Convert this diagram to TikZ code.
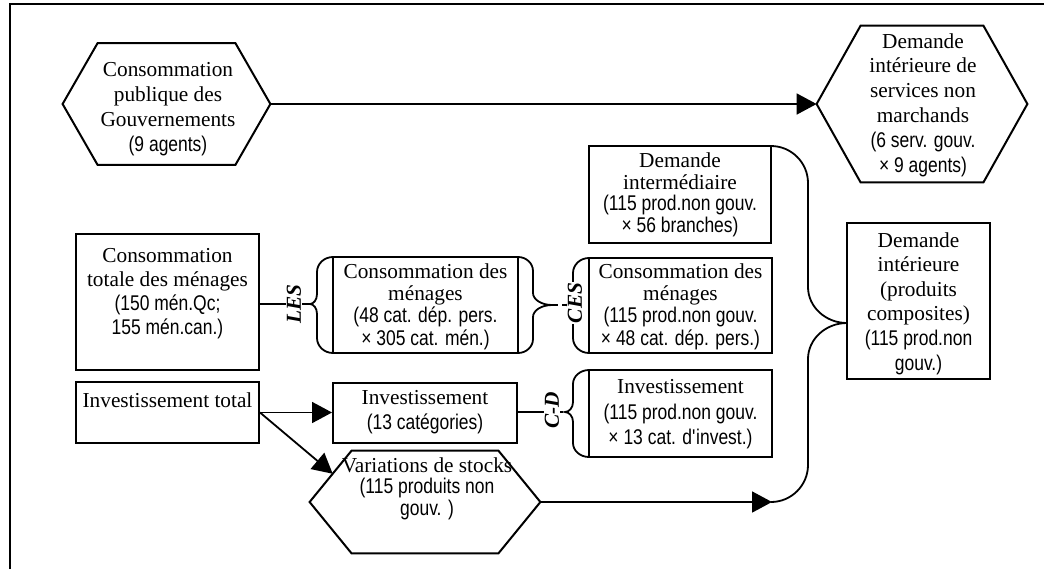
\documentclass[tikz,border=0pt]{standalone}
\usepackage{fontspec}
\setmainfont{Liberation Serif}
\newfontfamily\narrowsans{Liberation Sans}[FakeStretch=0.82]
\usetikzlibrary{arrows.meta,calc}

% curly brace: edge x, vertical x, tip x, top y, tip y, bottom y, outer radius, tip radius
\newcommand\curlybrace[8]{%
  \draw[conn] (#1,#4) .. controls ({#1+0.55*(#2-#1)},#4) and (#2,{#4+0.45*#7}) .. (#2,{#4+#7})
    -- (#2,{#5-#8}) .. controls (#2,{#5-0.45*#8}) and ({#3+0.55*(#2-#3)},#5) .. (#3,#5)
    .. controls ({#3+0.55*(#2-#3)},#5) and (#2,{#5+0.45*#8}) .. (#2,{#5+#8})
    -- (#2,{#6-#7}) .. controls (#2,{#6-0.45*#7}) and ({#1+0.55*(#2-#1)},#6) .. (#1,#6);}

% hexagon drawn round a (text-free) node: node name, horizontal chamfer
\newcommand\hexagonoutline[2]{%
  \draw[outline] (#1.west) -- ($(#1.north west)+(#2,0)$) -- ($(#1.north east)+(-#2,0)$)
    -- (#1.east) -- ($(#1.south east)+(-#2,0)$) -- ($(#1.south west)+(#2,0)$) -- cycle;}

\begin{document}
\begin{tikzpicture}[x=0.5pt,y=-0.5pt,
  sz/.style 2 args={minimum width={#1*0.5pt}, minimum height={#2*0.5pt}},
  box/.style={draw, line width=1pt, inner sep=0pt},
  hexbase/.style={inner sep=0pt},
  outline/.style={line width=1pt, line join=miter},
  conn/.style={line width=0.9pt},
  arr/.style={conn, -{Triangle[length=10pt,width=10.5pt]}},
  txt/.style={align=center, inner sep=0pt, font=\fontsize{10.65pt}{#1}\selectfont},
  txt/.default=12.5pt,
  lbl/.style={rotate=90, fill=white, inner sep=0.6pt, font=\fontsize{10.65pt}{12pt}\selectfont\bfseries\itshape},
  frame/.style={line width=1pt}]

\useasboundingbox (0,0) rectangle (1044,569);
\draw[frame] (10,569) -- (10,4) -- (1044,4);

% ---- public consumption and non-market services
\node[hexbase, sz={207}{121}] (cpg) at (166.5,104) {};
\hexagonoutline{cpg}{35}
\node[txt=12.5pt] (cpg-t) at (168,109.5)
  {Consommation\\publique des\\Gouvernements\\{\narrowsans (9 agents)}};

\node[hexbase, sz={210}{156}] (dsnm) at (922,104) {};
\hexagonoutline{dsnm}{44}
\node[txt=12.4pt] (dsnm-t) at (923,105)
  {Demande\\intérieure de\\services non\\marchands\\{\narrowsans (6 serv. gouv.}\\{\narrowsans × 9 agents)}};

\draw[arr] (cpg.east) -- (dsnm.west);

% ---- intermediate demand
\node[box, sz={182}{97}] (dim) at (680,194.5) {};
\node[txt=10.75pt] (dim-t) at (680,195)
  {Demande\\intermédiaire\\{\narrowsans (115 prod.non gouv.}\\{\narrowsans × 56 branches)}};

% ---- households
\node[box, sz={183}{136}] (ctm) at (167.5,302) {};
\node[txt=12pt] (ctm-t) at (167.5,294)
  {Consommation\\totale des ménages\\{\narrowsans (150 mén.Qc;}\\{\narrowsans 155 mén.can.)}};

\node[box, sz={185}{96}] (cm1) at (425.5,305) {};
\node[txt=11.15pt] (cm1-t) at (425.5,306.5)
  {Consommation des\\ménages\\{\narrowsans (48 cat. dép. pers.}\\{\narrowsans × 305 cat. mén.)}};

\node[box, sz={183}{95}] (cm2) at (680.5,305.5) {};
\node[txt=11.15pt] (cm2-t) at (680.5,306.5)
  {Consommation des\\ménages\\{\narrowsans (115 prod.non gouv.}\\{\narrowsans × 48 cat. dép. pers.)}};

% ---- investment
\node[box, sz={183}{61}] (itot) at (167.5,412.5) {};
\node[txt] (itot-t) at (167.5,400) {Investissement total};

\node[box, sz={184}{60}] (i13) at (425,412.5) {};
\node[txt=12.5pt] (i13-t) at (425,412.5)
  {Investissement\\{\narrowsans (13 catégories)}};

\node[box, sz={183}{87}] (i115) at (680.5,413.5) {};
\node[txt=12.75pt] (i115-t) at (680.5,414.5)
  {Investissement\\{\narrowsans (115 prod.non gouv.}\\{\narrowsans × 13 cat. d\textquotesingle invest.)}};

% ---- stock variations
\node[hexbase, sz={230}{102}] (vs) at (425,502) {};
\hexagonoutline{vs}{42}
\coordinate (vs-nw) at ($(vs.north west)+(42,0)$);
\coordinate (vs-in) at ($(vs.west)!0.55!(vs-nw)$);
\node[txt=10.75pt] (vs-t) at (427,488.5)
  {Variations de stocks\\{\narrowsans (115 produits non}\\{\narrowsans gouv. )}};

% ---- domestic demand for composite goods
\node[box, sz={143}{156}] (dint) at (918.5,301) {};
\node[txt=12.3pt] (dint-t) at (918.5,303.5)
  {Demande\\intérieure\\(produits\\composites)\\{\narrowsans (115 prod.non}\\{\narrowsans gouv.)}};

% ---- braces
\curlybrace{333}{317}{310}{257}{304}{353}{15}{10}
\curlybrace{518}{533}{552}{257}{305}{353}{14}{12}
\curlybrace{589}{573}{566}{258}{305}{353}{15}{10}
\curlybrace{589}{573}{565}{370}{412}{457}{14}{10}
\curlybrace{771}{808}{847}{146}{323}{502}{37}{36}

\coordinate (les-tip) at (310,304);
\coordinate (cm1-tip) at (552,305);
\coordinate (cd-tip) at (565,412);
\coordinate (big-end) at (dim.east |- vs.east);

% ---- connectors and function labels
\draw[conn] (ctm.east |- les-tip) -- (les-tip);
\node[lbl] (les) at (294,304) {LES};

\draw[conn, dashed, dash pattern=on 3pt off 2pt] (cm1-tip) -- (574,305);
\node[lbl] (ces) at (575,303) {CES};

\draw[conn] (i13.east |- cd-tip) -- (552,412);
\draw[conn, dash pattern=on 2pt off 1.5pt] (552,412) -- (cd-tip);
\node[lbl] (cd) at (552,410) {C-D};

\draw[arr] (itot.east) -- (i13.west);
\draw[arr] (itot.east) -- (vs-in);
\draw[arr] (vs.east) -- (big-end);

\end{tikzpicture}
\end{document}
